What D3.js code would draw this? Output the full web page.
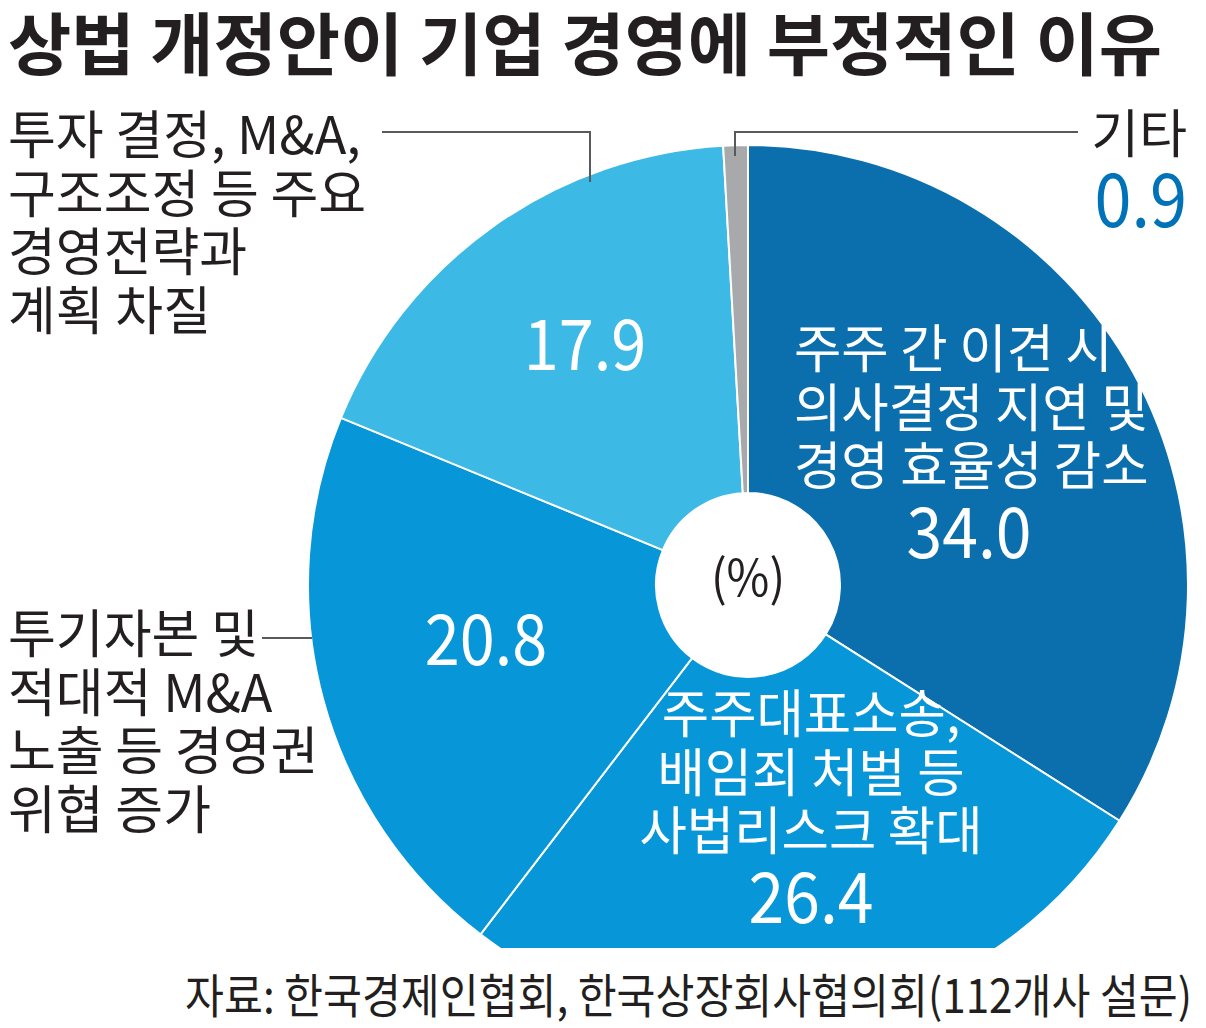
<!DOCTYPE html>
<html>
<head>
<meta charset="utf-8">
<script src="https://cdn.jsdelivr.net/npm/d3@7"></script>
<style>
  html, body { margin: 0; padding: 0; background: #fff; }
  svg text { font-family: "Noto Sans CJK KR", "Noto Sans", sans-serif; }
</style>
</head>
<body>
<svg id="chart" width="1206" height="1028"></svg>
<script>
// data
const categories = [
  "주주 간 이견 시 의사결정 지연 및 경영 효율성 감소",
  "주주대표소송, 배임죄 처벌 등 사법리스크 확대",
  "투기자본 및 적대적 M&A 노출 등 경영권 위협 증가",
  "투자 결정, M&A, 구조조정 등 주요 경영전략과 계획 차질",
  "기타"
];
const values = [34.0, 26.4, 20.8, 17.9, 0.9];
const labelLines = [
  ["주주 간 이견 시", "의사결정 지연 및", "경영 효율성 감소"],
  ["주주대표소송,", "배임죄 처벌 등", "사법리스크 확대"],
  ["투기자본 및", "적대적 M&A", "노출 등 경영권", "위협 증가"],
  ["투자 결정, M&A,", "구조조정 등 주요", "경영전략과", "계획 차질"],
  ["기타"]
];
const colors = ["#0b6fae", "#0796d8", "#0796d8", "#3cb9e5", "#a8a9ab"];
const title = "상법 개정안이 기업 경영에 부정적인 이유";
const source = "자료: 한국경제인협회, 한국상장회사협의회(112개사 설문)";
const unit = "(%)";

const svg = d3.select("#chart");
const W = 1206, H = 1028;
const cx = 748, cy = 585;
const outerR = 440, innerR = 92;
const clipBottom = 948;
const ink = "#231f20";
const fmt = d3.format(".1f");

// title
svg.append("text")
  .attr("transform", "translate(8,70) scale(1.012,1)")
  .attr("font-size", 68)
  .attr("font-weight", 700)
  .attr("fill", ink)
  .text(title);

// pie
const pie = d3.pie().sort(null).value(d => d.value);
const arcs = pie(values.map((v, i) => ({ value: v, name: categories[i], i })));
const arc = d3.arc().innerRadius(innerR).outerRadius(outerR);

svg.append("clipPath").attr("id", "cut")
  .append("rect").attr("x", 0).attr("y", 0).attr("width", W).attr("height", clipBottom);

const g = svg.append("g")
  .attr("clip-path", "url(#cut)")
  .append("g")
  .attr("transform", `translate(${cx},${cy})`);

g.selectAll("path.slice")
  .data(arcs).enter()
  .append("path")
  .attr("class", "slice")
  .attr("d", arc)
  .attr("fill", d => colors[d.index])
  .attr("stroke", "#fff")
  .attr("stroke-width", 2)
  .attr("stroke-linejoin", "round");

// unit in the hole
svg.append("text")
  .attr("transform", `translate(${cx},${cy + 11}) scale(0.93,1)`)
  .attr("text-anchor", "middle")
  .attr("font-size", 50)
  .attr("fill", ink)
  .text(unit);

// leader lines (outside labels)
const leaders = [
  { i: 3, pts: [[382, 132], [590, 132], [590, 182]] },
  { i: 4, pts: [[1078, 132], [735, 132], [735, 156]] },
  { i: 2, pts: [[262, 638], [312, 638]] }
];
svg.selectAll("path.leader")
  .data(leaders).enter()
  .append("path")
  .attr("class", "leader")
  .attr("d", d => d3.line()(d.pts))
  .attr("fill", "none")
  .attr("stroke", "#58595b")
  .attr("stroke-width", 2);

// label layout: where each slice's text block sits
// inside: lines in white above the value; outside: dark lines, value inside slice
const layout = [
  { inside: true,  x: 969, textX: 794, textAnchor: "start", valueY: 558 },
  { inside: true,  x: 811, valueY: 923 },
  { inside: false, x: 8,   lineY: 653, valueX: 486, valueY: 665 },
  { inside: false, x: 8,   lineY: 154, valueX: 585, valueY: 370 },
  { inside: false, x: 1187, lineY: 153, anchor: "end", valueX: 1187, valueY: 227, valueColor: "#0072b8" }
];
const lineH = 58.5, valueGap = 73;

arcs.forEach((a, i) => {
  const L = layout[i];
  const lines = labelLines[i];
  if (L.inside) {
    const n = lines.length;
    lines.forEach((t, k) => {
      const y = L.valueY - valueGap - (n - 1 - k) * lineH;
      svg.append("text")
        .attr("transform", `translate(${L.textX ?? L.x},${y}) scale(0.99,1)`)
        .attr("text-anchor", L.textAnchor || "middle")
        .attr("font-size", 52)
        .attr("fill", "#fff")
        .text(t);
    });
    svg.append("text")
      .attr("transform", `translate(${L.x},${L.valueY}) scale(0.92,1)`)
      .attr("text-anchor", "middle")
      .attr("font-size", 70)
      .attr("fill", "#fff")
      .text(fmt(a.data.value));
  } else {
    const anchor = L.anchor || "start";
    lines.forEach((t, k) => {
      svg.append("text")
        .attr("transform", `translate(${L.x},${L.lineY + k * lineH}) scale(1.0,1)`)
        .attr("text-anchor", anchor)
        .attr("font-size", 52)
        .attr("fill", ink)
        .text(t);
    });
    svg.append("text")
      .attr("transform", `translate(${L.valueX},${L.valueY}) scale(0.9,1)`)
      .attr("text-anchor", anchor === "end" ? "end" : "middle")
      .attr("font-size", anchor === "end" ? 74 : 70)
      .attr("fill", L.valueColor || "#fff")
      .text(fmt(a.data.value));
  }
});

// source
svg.append("text")
  .attr("transform", "translate(1192,1013) scale(0.9,1)")
  .attr("text-anchor", "end")
  .attr("font-size", 47)
  .attr("fill", ink)
  .text(source);
</script>
</body>
</html>
